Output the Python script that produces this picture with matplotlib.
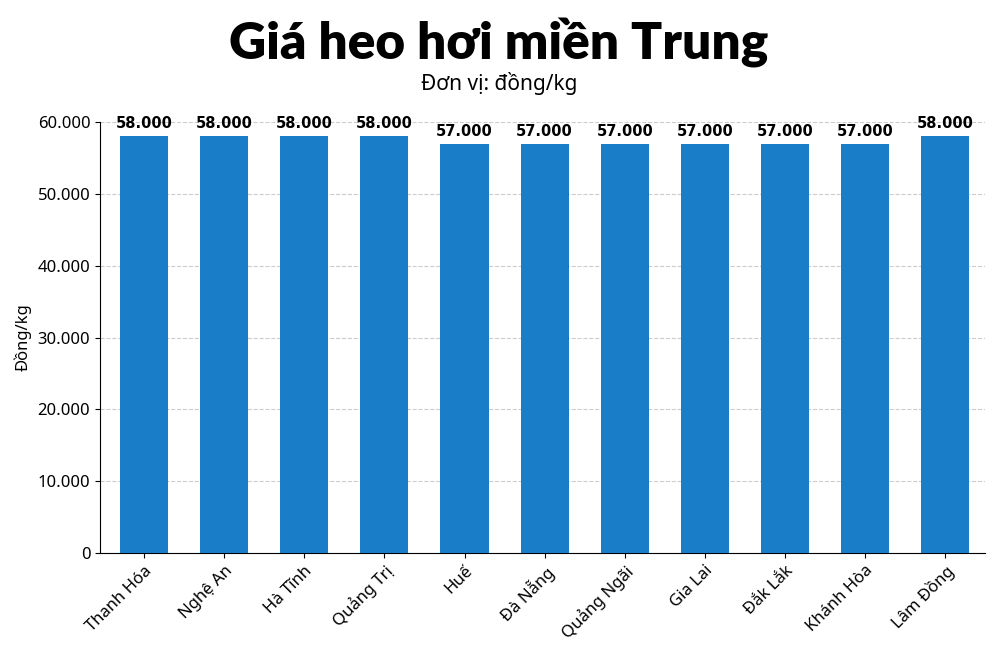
import matplotlib
matplotlib.use("Agg")
import matplotlib.pyplot as plt
from matplotlib.ticker import FuncFormatter

provinces = ["Thanh Hóa", "Nghệ An", "Hà Tĩnh", "Quảng Trị", "Huế", "Đà Nẵng",
             "Quảng Ngãi", "Gia Lai", "Đắk Lắk", "Khánh Hòa", "Lâm Đồng"]
prices = [58000, 58000, 58000, 58000, 57000, 57000, 57000, 57000, 57000, 57000, 58000]

def fmt(v):
    return f"{int(v):,}".replace(",", ".")

plt.rcParams['font.family'] = ['Noto Sans', 'DejaVu Sans']
fig = plt.figure(figsize=(9.98, 6.65), dpi=100)
ax = fig.add_axes([0.1002, 0.1684, 0.887, 0.6481])
x = range(len(provinces))
ax.bar(x, prices, width=0.6, color="#1a7dc8", zorder=3)
for i, v in zip(x, prices):
    ax.text(i, v + 700, fmt(v), ha="center", va="bottom", fontsize=10.5,
            fontweight="bold", family=["DejaVu Sans"], clip_on=False)
ax.set_xlim(-0.55, 10.5)
ax.set_ylim(0, 60000)
ax.set_yticks(range(0, 60001, 10000))
ax.yaxis.set_major_formatter(FuncFormatter(lambda v, p: fmt(v)))
ax.set_xticks(list(x))
ax.set_xticklabels(provinces, rotation=45, ha="right", rotation_mode="anchor", fontsize=12)
ax.tick_params(axis="y", labelsize=12)
ax.set_ylabel("Đồng/kg", fontsize=12)
ax.grid(axis="y", linestyle="--", color="#cccccc", linewidth=0.8, zorder=0)
for s in ["top", "right"]:
    ax.spines[s].set_visible(False)
fig.text(0.5, 0.935, "Giá heo hơi miền Trung", ha="center", va="center",
         fontsize=37, fontweight="heavy", family=["Lato", "DejaVu Sans"])
fig.text(0.5, 0.875, "Đơn vị: đồng/kg", ha="center", va="center", fontsize=15)
fig.savefig("out.png", dpi=100)
